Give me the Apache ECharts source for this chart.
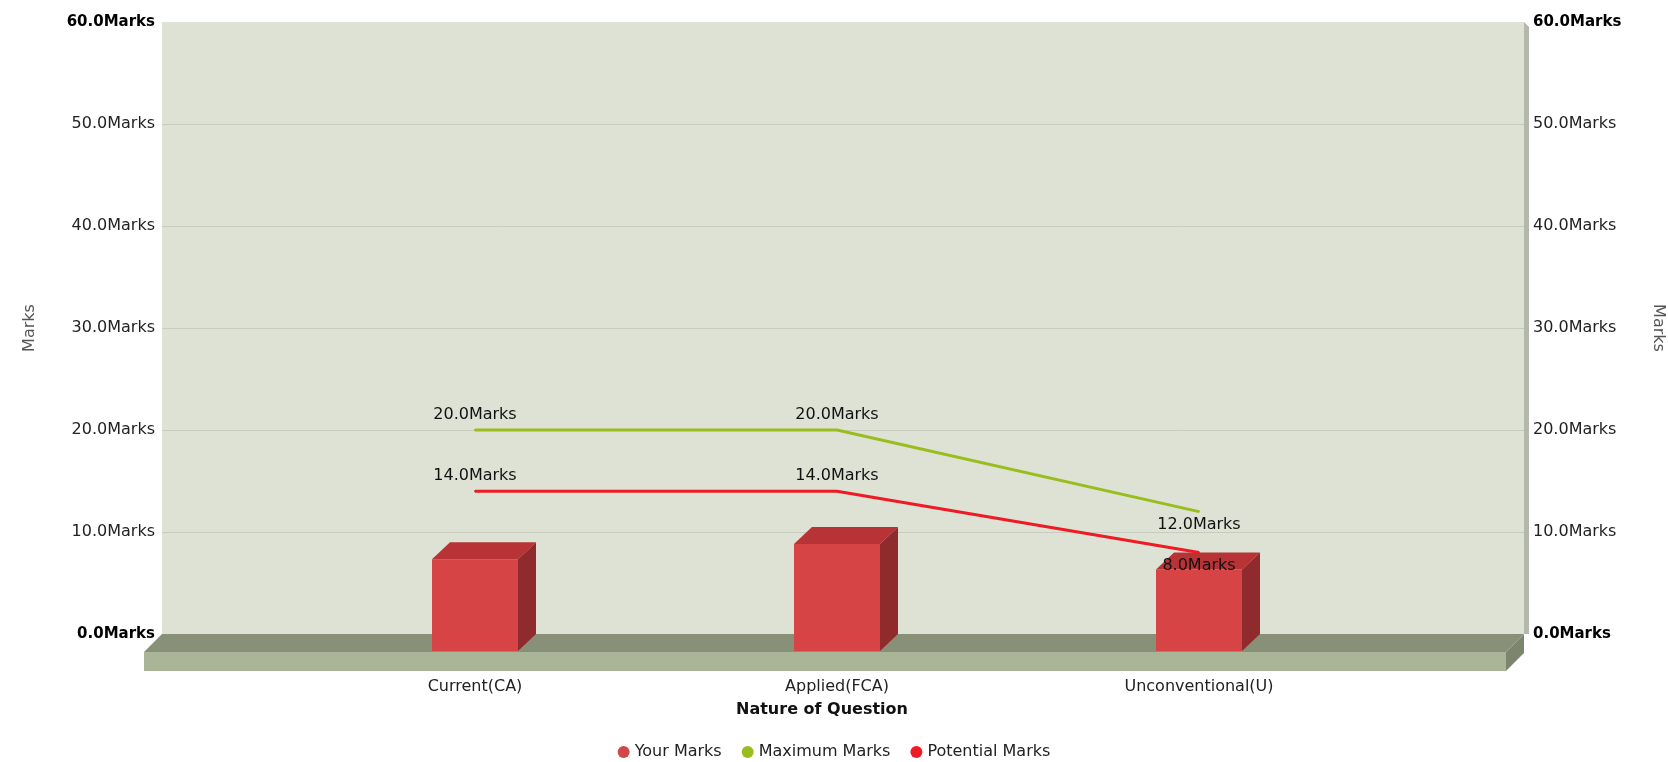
<!DOCTYPE html>
<html>
<head>
<meta charset="utf-8">
<script src="https://cdn.jsdelivr.net/npm/echarts@6/dist/echarts.min.js"></script>
<style>
html,body{margin:0;padding:0;background:#fff;}
#c{width:1668px;height:762px;}
</style>
</head>
<body>
<div id="c"></div>
<script>
const categories = ['Current(CA)', 'Applied(FCA)', 'Unconventional(U)'];
const yourMarks = [9.0, 10.5, 8.0];
const maximumMarks = [20.0, 20.0, 12.0];
const potentialMarks = [14.0, 14.0, 8.0];
const yMin = 0, yMax = 60, yInterval = 10;
const labelBelowIndex = 2;

const FONT = 'Verdana, "DejaVu Sans", sans-serif';
const FS = 16;
const fmt = v => v.toFixed(1) + 'Marks';
const yLabelFmt = v => (v === yMin || v === yMax) ? '{b|' + fmt(v) + '}' : fmt(v);

const chart = echarts.init(document.getElementById('c'));

function lineData(arr) {
  return arr.map((v, i) => ({
    value: v,
    label: { position: i === labelBelowIndex ? 'bottom' : 'top', distance: i === labelBelowIndex ? 4 : 6 }
  }));
}

const option = {
  animation: false,
  textStyle: { fontFamily: FONT },
  grid: [
    { left: 162, right: 144, top: 22, bottom: 128, show: true, backgroundColor: '#dde2d5', borderWidth: 0,
      containLabel: false, outerBoundsMode: 'none' },
    { left: 294, right: 288, top: 22, bottom: 128, containLabel: false, outerBoundsMode: 'none' }
  ],
  xAxis: [
    { gridIndex: 0, type: 'category', data: [''], show: false },
    { gridIndex: 1, type: 'category', data: categories,
      axisLine: { show: false }, axisTick: { show: false },
      axisLabel: { margin: 45, fontSize: FS, color: '#222', fontFamily: FONT } }
  ],
  yAxis: [
    { gridIndex: 0, type: 'value', min: yMin, max: yMax, interval: yInterval, position: 'left',
      name: 'Marks', nameLocation: 'middle', nameGap: 124,
      nameTextStyle: { fontSize: FS, color: '#555', fontFamily: FONT },
      axisLine: { show: false }, axisTick: { show: false },
      axisLabel: { margin: 7, fontSize: FS, color: '#222', formatter: yLabelFmt,
        rich: { b: { fontWeight: 'bold', fontSize: 15, color: '#000', fontFamily: FONT } } },
      splitLine: { show: true, showMinLine: false, showMaxLine: false, lineStyle: { color: '#c6ccbe', width: 1 } } },
    { gridIndex: 0, type: 'value', min: yMin, max: yMax, interval: yInterval, position: 'right',
      name: 'Marks', nameLocation: 'middle', nameGap: 126, nameRotate: -90,
      nameTextStyle: { fontSize: FS, color: '#555', fontFamily: FONT },
      axisLine: { show: false }, axisTick: { show: false },
      axisLabel: { margin: 9, fontSize: FS, color: '#222', formatter: yLabelFmt,
        rich: { b: { fontWeight: 'bold', fontSize: 15, color: '#000', fontFamily: FONT } } },
      splitLine: { show: false } },
    { gridIndex: 1, type: 'value', min: yMin, max: yMax, interval: yInterval, show: false, splitLine: { show: false } }
  ],
  legend: {
    top: 739, left: 'center', icon: 'circle', itemWidth: 12, itemHeight: 12, itemGap: 20,
    textStyle: { fontSize: FS, color: '#222', fontFamily: FONT },
    data: ['Your Marks', 'Maximum Marks', 'Potential Marks']
  },
  graphic: [
    { type: 'text', x: 822, y: 710, style: { text: 'Nature of Question', font: 'bold 16px ' + FONT, fill: '#111', align: 'center', verticalAlign: 'middle' } }
  ],
  series: [
    { type: 'custom', name: 'floor', xAxisIndex: 0, yAxisIndex: 0, z: 1, silent: true,
      data: [[0, 0]],
      renderItem: function (params, api) {
        const cs = params.coordSys;
        const x0 = cs.x, x1 = cs.x + cs.width, yt = cs.y, yb = api.coord([0, yMin])[1];
        const d = 18, h = 19;
        return { type: 'group', children: [
          { type: 'polygon', shape: { points: [[x1, yt], [x1 + 5, yt + 5], [x1 + 5, yb], [x1, yb]] }, style: { fill: '#b4b8ac' } },
          { type: 'polygon', shape: { points: [[x0, yb], [x1, yb], [x1 - d, yb + d], [x0 - d, yb + d]] }, style: { fill: '#889078' } },
          { type: 'rect', shape: { x: x0 - d, y: yb + d, width: cs.width, height: h }, style: { fill: '#a9b596' } },
          { type: 'polygon', shape: { points: [[x1 - d, yb + d], [x1, yb], [x1, yb + h], [x1 - d, yb + d + h]] }, style: { fill: '#7c856d' } }
        ] };
      }
    },
    { type: 'custom', name: 'Your Marks', xAxisIndex: 1, yAxisIndex: 2, z: 3,
      itemStyle: { color: '#d24848' },
      data: yourMarks.map((v, i) => [i, v]),
      encode: { x: 0, y: 1 },
      renderItem: function (params, api) {
        const top = api.coord([api.value(0), api.value(1)]);
        const base = api.coord([api.value(0), 0]);
        const hw = 43, dx = 18, dy = 17;
        const fl = top[0] - hw, fr = top[0] + hw, ft = top[1] + dy, fb = base[1] + dy;
        return { type: 'group', children: [
          { type: 'rect', shape: { x: fl, y: ft, width: fr - fl, height: fb - ft }, style: { fill: '#d64446' } },
          { type: 'polygon', shape: { points: [[fl, ft], [fr, ft], [fr + dx, ft - dy], [fl + dx, ft - dy]] }, style: { fill: '#b73336' } },
          { type: 'polygon', shape: { points: [[fr, ft], [fr + dx, ft - dy], [fr + dx, fb - dy], [fr, fb]] }, style: { fill: '#8f2b2d' } }
        ] };
      }
    },
    { type: 'line', name: 'Maximum Marks', xAxisIndex: 1, yAxisIndex: 2, z: 5,
      data: lineData(maximumMarks), symbol: 'circle', symbolSize: 2,
      itemStyle: { color: '#9abd1e' }, lineStyle: { color: '#9abd1e', width: 3 },
      label: { show: true, formatter: p => fmt(p.value), fontSize: FS, color: '#111', fontFamily: FONT } },
    { type: 'line', name: 'Potential Marks', xAxisIndex: 1, yAxisIndex: 2, z: 5,
      data: lineData(potentialMarks), symbol: 'circle', symbolSize: 2,
      itemStyle: { color: '#ee1b24' }, lineStyle: { color: '#ee1b24', width: 3 },
      label: { show: true, formatter: p => fmt(p.value), fontSize: FS, color: '#111', fontFamily: FONT } }
  ]
};
chart.setOption(option);
</script>
</body>
</html>
